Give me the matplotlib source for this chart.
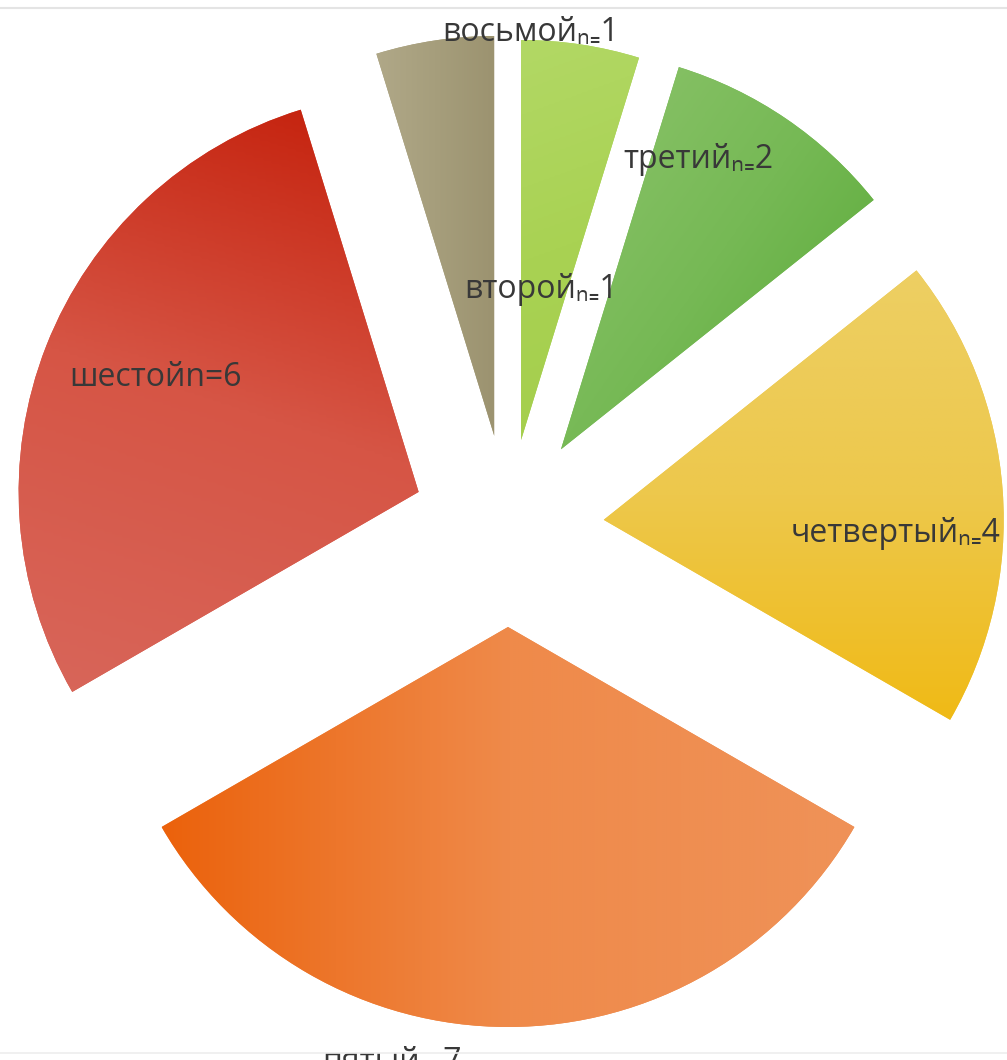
import numpy as np
import matplotlib.pyplot as plt
from matplotlib.colors import LinearSegmentedColormap
from matplotlib.lines import Line2D

# data
labels = ["второй", "третий", "четвертый", "пятый", "шестой", "восьмой"]
counts = [1, 2, 4, 7, 6, 1]
explode = [0.22, 0.235, 0.24, 0.25, 0.24, 0.23]   # fraction of radius

# gradient stops per slice and gradient direction (deg, y up)
grad_stops = [
    ["#B2D865", "#A9D253", "#A4CE4C"],
    ["#8DC46C", "#76B955", "#56A834"],
    ["#EDCF63", "#EDC84C", "#F0BA16"],
    ["#EB620C", "#EF8A4A", "#EF9258"],
    ["#C41F0A", "#D65545", "#D8665A"],
    ["#B0A888", "#A69E7C", "#9C9370"],
]
grad_angle = [-70, -35, -90, 0, -108, 0]

# label positions in image pixels (Excel moved them by hand)
label_pos = [(541, 290), (698, 160), (896, 533), (392, 1062), (156, 378), (531, 33)]

W, H = 1007, 1060
R = 400
plt.rcParams['font.family'] = ['Open Sans', 'DejaVu Sans']

fig = plt.figure(figsize=(W / 100, H / 100), dpi=100)
ax = fig.add_axes([0, 0, 1, 1])

wedges, _ = ax.pie(counts, explode=[e * R for e in explode], startangle=90,
                   counterclock=False, center=(508, H - 527), radius=R, frame=True,
                   colors=[s[1] for s in grad_stops],
                   wedgeprops=dict(linewidth=0))
ax.set_xlim(0, W)
ax.set_ylim(0, H)
ax.axis('off')


def grad_fill(ax, wedge, stops, angle):
    verts = wedge.get_path().vertices
    x0, y0 = verts.min(axis=0)
    x1, y1 = verts.max(axis=0)
    xs = np.linspace(x0, x1, 200)
    ys = np.linspace(y0, y1, 200)
    X, Y = np.meshgrid(xs, ys)
    a = np.deg2rad(angle)
    t = X * np.cos(a) + Y * np.sin(a)
    t = (t - t.min()) / (t.max() - t.min())
    cmap = LinearSegmentedColormap.from_list("g", stops)
    im = ax.imshow(t, cmap=cmap, extent=(x0, x1, y0, y1), origin='lower',
                   aspect='auto', zorder=2, interpolation='bilinear')
    im.set_clip_path(wedge)


for w, st, ang in zip(wedges, grad_stops, grad_angle):
    grad_fill(ax, w, st, ang)

for name, n, (px, py) in zip(labels, counts, label_pos):
    if name == "шестой":
        txt = f"{name}n={n}"
    else:
        txt = f"{name}\u2099\u208c{n}"
    ax.text(px, H - py, txt, ha='center', va='center', fontsize=23,
            color='#383838', zorder=5)

fig.add_artist(Line2D([0, 1], [1 - 8 / H] * 2, color='#E4E4E4', lw=1.5))
fig.add_artist(Line2D([0, 1], [7 / H] * 2, color='#EEEEEE', lw=1.2))

fig.savefig("out.png", dpi=100)
